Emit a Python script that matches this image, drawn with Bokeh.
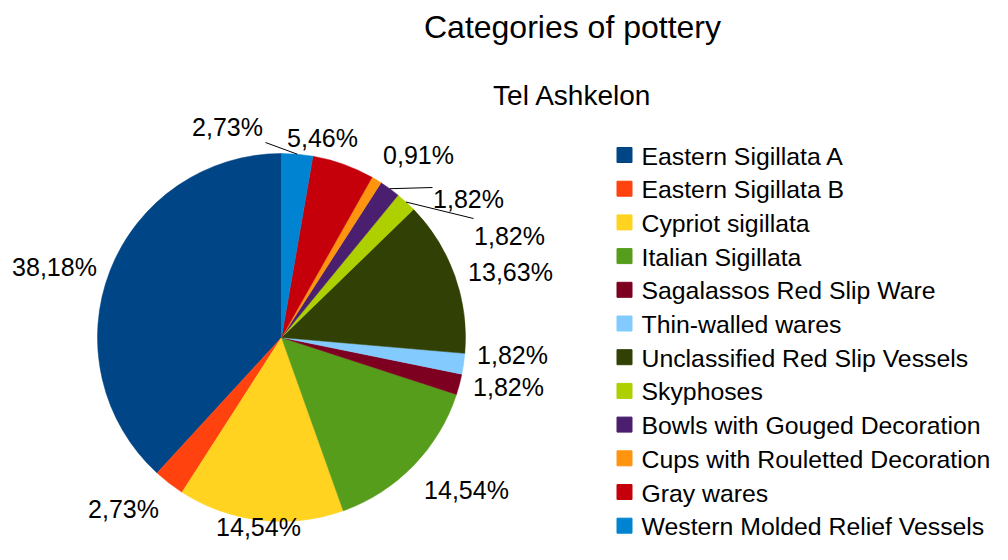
import numpy as np
from bokeh.plotting import figure
from bokeh.models import Range1d, ColumnDataSource
from bokeh.core.properties import value
from bokeh.embed import file_html
from bokeh.resources import INLINE

# ---------------- data ----------------
title_text = "Categories of pottery"
subtitle_text = "Tel Ashkelon"
categories = [
    "Eastern Sigillata A",
    "Eastern Sigillata B",
    "Cypriot sigillata",
    "Italian Sigillata",
    "Sagalassos Red Slip Ware",
    "Thin-walled wares",
    "Unclassified Red Slip Vessels",
    "Skyphoses",
    "Bowls with Gouged Decoration",
    "Cups with Rouletted Decoration",
    "Gray wares",
    "Western Molded Relief Vessels",
]
percentages = [38.18, 2.73, 14.54, 14.54, 1.82, 1.82, 13.63, 1.82, 1.82, 0.91, 5.46, 2.73]
colors = ["#004586", "#ff420e", "#ffd320", "#579d1c", "#7e0021", "#83caff",
          "#314004", "#aecf00", "#4b1f6f", "#ff950e", "#c5000b", "#0084d1"]

# ---------------- layout (pixel positions in the picture) ----------------
W, H = 992, 544
FONT = "Liberation Sans"
BASE_FIX = 0.34  # renderer draws "alphabetic" text this many em lower


def X(px):
    return px


def Y(py, size=0.0):
    return H - (py - BASE_FIX * size)


CX, CY, R = X(281), Y(337), 184
label_px = [(54, 275), (123, 517), (258, 535), (466, 498), (508, 395), (512, 363),
            (510, 280), (509, 244), (468, 207), (418, 163), (322, 146), (227, 135)]
leader_end_px = {11: (265, 142), 8: (432, 187), 7: (473, 218)}
legend_sq_x, legend_text_x = 624, 641
legend_base0, legend_pitch = 164, 33.7
LABEL_SIZE, LEGEND_SIZE, TITLE_SIZE, SUB_SIZE = 25, 24.8, 32, 28

# ---------------- derived geometry ----------------
vals = np.array(percentages, dtype=float)
frac = vals / vals.sum()
cum = np.cumsum(frac)
start = np.pi / 2 + 2 * np.pi * (cum - frac)
end = np.pi / 2 + 2 * np.pi * cum
mid = (start + end) / 2

p = figure(width=W, height=H, x_range=Range1d(0, W), y_range=Range1d(0, H),
           x_axis_type=None, y_axis_type=None, toolbar_location=None,
           output_backend="svg", min_border=0)
p.outline_line_color = None
p.grid.visible = False

wsrc = ColumnDataSource(dict(start=start, end=end, color=colors, cat=categories))
p.wedge(x=CX, y=CY, radius=R, start_angle="start", end_angle="end",
        direction="anticlock", fill_color="color", line_color="color",
        line_width=0.5, source=wsrc)

# leader lines
for i, (ex, ey) in leader_end_px.items():
    x0 = CX + R * np.cos(mid[i])
    y0 = CY + R * np.sin(mid[i])
    p.line([x0, X(ex)], [y0, Y(ey)], line_color="#000000", line_width=1)

# percentage labels
lab_text = [f"{v:.2f}".replace(".", ",") + "%" for v in percentages]
lsrc = ColumnDataSource(dict(x=[X(a) for a, b in label_px],
                             y=[Y(b, LABEL_SIZE) for a, b in label_px], t=lab_text))
p.text(x="x", y="y", text="t", source=lsrc, text_font=value(FONT),
       text_font_size=f"{LABEL_SIZE}px",
       text_align="center", text_baseline="alphabetic", text_color="#000000")

# titles
p.text(x=[X(572)], y=[Y(37, TITLE_SIZE)], text=[title_text], text_font=value(FONT),
       text_font_size=f"{TITLE_SIZE}px",
       text_align="center", text_baseline="alphabetic", text_color="#000000")
p.text(x=[X(572)], y=[Y(105, SUB_SIZE)], text=[subtitle_text], text_font=value(FONT),
       text_font_size=f"{SUB_SIZE}px",
       text_align="center", text_baseline="alphabetic", text_color="#000000")

# legend
rows = np.arange(len(categories))
base = legend_base0 + legend_pitch * rows
gsrc = ColumnDataSource(dict(
    sx=[X(legend_sq_x)] * len(categories),
    sy=[Y(b - 9.5) for b in base],
    tx=[X(legend_text_x)] * len(categories),
    ty=[Y(b, LEGEND_SIZE) for b in base],
    color=colors, cat=categories))
p.rect(x="sx", y="sy", width=15, height=15, fill_color="color", line_color="color", source=gsrc)
p.text(x="tx", y="ty", text="cat", source=gsrc, text_font=value(FONT),
       text_font_size=f"{LEGEND_SIZE}px",
       text_align="left", text_baseline="alphabetic", text_color="#000000")

open("out.html", "w").write(file_html(p, INLINE))
